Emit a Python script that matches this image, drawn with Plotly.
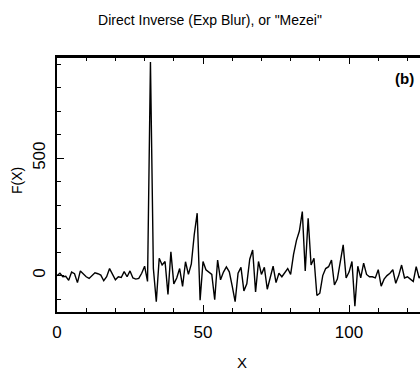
import plotly.graph_objects as go

x_vals = list(range(0, 128))
f_vals = [
    0, 10, -5, -3, -20, 15, 8, -30, 20, 5,
    -5, -12, 2, 12, 8, 2, -22, -5, 30, 5,
    -18, -5, -8, 17, -5, 20, -10, -15, -12, 10,
    40, -25, 910, 30, -111, 74, 45, 60, -80, 101,
    -35, -10, 30, -46, 59, 5, 50, 175, 266, -105,
    60, 25, 15, 5, -103, 66, -18, 15, 37, 16,
    -45, -111, 10, 35, -65, -35, 70, 109, -70, 60,
    5, 35, -58, -12, 40, -30, 10, -5, 15, 30,
    5, 90, 150, 190, 273, 20, 244, 45, 74, -85,
    -75, 0, 30, 38, 66, -40, -15, 60, 131, -10,
    15, 60, -130, 40, -10, 53, 5, -5, -5, -10,
    25, -45, -15, 0, 10, 25, -33, 0, 45, -10,
    -5, -15, -25, 38, -10, 5, 10, 0,
]

title_text = 'Direct Inverse (Exp Blur), or "Mezei"'
panel_label = "(b)"
x_label = "X"
y_label = "F(X)"

FONT = "Liberation Sans, Arial, sans-serif"
X_RANGE = [0, 124.3]
Y_RANGE = [-155, 931]

fig = go.Figure()
fig.add_trace(go.Scatter(x=x_vals, y=f_vals, mode="lines",
                         line=dict(color="black", width=1.4),
                         showlegend=False, hoverinfo="skip"))

fig.update_layout(
    width=420, height=372,
    margin=dict(l=57, r=0, t=57, b=60),
    paper_bgcolor="white", plot_bgcolor="white",
    font=dict(family=FONT, color="black"),
    title=dict(text=title_text, x=0.5, xref="container", xanchor="center",
               y=1 - 20 / 372, yref="container", yanchor="middle",
               font=dict(size=14, family=FONT, color="black")),
    xaxis=dict(
        range=X_RANGE, showgrid=False, zeroline=False,
        showline=True, linecolor="black", linewidth=1.6, mirror="allticks",
        ticks="inside", ticklen=7, tickwidth=1.2, tickcolor="black",
        tick0=0, dtick=50, tickfont=dict(size=17, family=FONT, color="black"),
        ticklabelstandoff=4,
        minor=dict(ticks="inside", dtick=10, ticklen=4, tickwidth=1, tickcolor="black"),
    ),
    yaxis=dict(
        range=Y_RANGE, showgrid=False, zeroline=False,
        showline=True, linecolor="black", linewidth=1.6,
        ticks="inside", ticklen=7, tickwidth=1.2, tickcolor="black",
        tick0=0, dtick=500, tickangle=-90,
        tickfont=dict(size=17, family=FONT, color="black"),
        ticklabelstandoff=3,
        minor=dict(ticks="inside", dtick=100, ticklen=4, tickwidth=1, tickcolor="black"),
    ),
)

# top frame edge (reinforced)
fig.add_shape(type="line", xref="paper", yref="paper", x0=0, x1=1, y0=1, y1=1,
              line=dict(color="black", width=2), layer="above")

fig.add_annotation(text=panel_label, xref="paper", yref="paper",
                   x=(404 - 57) / 363, y=(312 - 78) / 255,
                   xanchor="center", yanchor="middle", showarrow=False,
                   font=dict(size=15, family=FONT, color="black", weight="bold"))
fig.add_annotation(text=x_label, xref="paper", yref="paper",
                   x=(242 - 57) / 363, y=(312 - 362) / 255,
                   xanchor="center", yanchor="middle", showarrow=False,
                   font=dict(size=15, family=FONT, color="black"))
fig.add_annotation(text=y_label, xref="paper", yref="paper",
                   x=(17 - 57) / 363, y=(312 - 181) / 255,
                   xanchor="center", yanchor="middle", showarrow=False,
                   textangle=-90,
                   font=dict(size=14, family=FONT, color="black"))

fig.write_html("out.html")
